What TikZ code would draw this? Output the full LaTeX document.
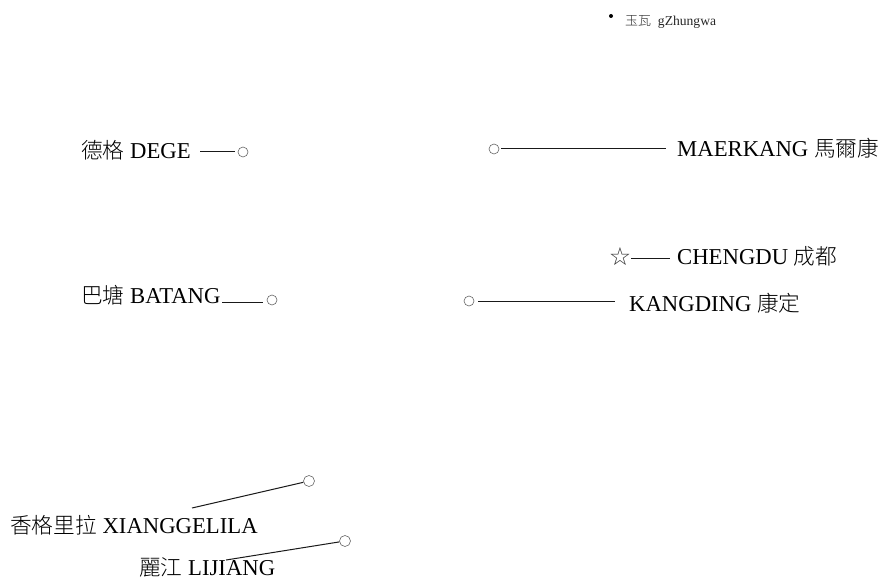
\documentclass[tikz,border=0pt]{standalone}
\usepackage{fontspec}
\setmainfont{Liberation Serif}
\newfontfamily\cjk[Scale=0.955]{Noto Sans CJK TC Light}
\newfontfamily\sym{DejaVu Sans}
\tikzset{
  x=1pt,y=-1pt,
  lab/.style={anchor=base west,inner sep=0pt,font=\fontsize{22.7}{25}\selectfont,text=black},
  small/.style={anchor=base west,inner sep=0pt,font=\fontsize{13.6}{15}\selectfont,text=black!85},
  town/.style={circle,draw=black!60,line width=0.6pt,minimum size=10pt,inner sep=0pt},
  lead/.style={line width=1pt,black!90}
}
\begin{document}
\begin{tikzpicture}
\useasboundingbox (0,0) rectangle (882,580);
\node[circle,fill=black,minimum size=4pt,inner sep=0pt] (zbul) at (611,16) {};
\node[small] (zh) at (625,26) {{\cjk 玉瓦}\ \ gZhungwa};

\node[lab] (dege) at (81,159) {{\cjk 德格} DEGE};
\node[town] (degeC) at (243,152) {};
\coordinate (degeE) at (200,152);
\draw[lead,shorten >=3pt] (degeE) -- (degeC);

\node[lab] (mk) at (677,157) {MAERKANG {\cjk 馬爾康}};
\node[town] (mkC) at (494,149) {};
\coordinate (mkE) at (666,149);
\draw[lead,shorten <=2pt] (mkC) -- (mkE);

\node[lab] (cd) at (677,264) {CHENGDU {\cjk 成都}};
\node[inner sep=0pt,font=\sym\fontsize{25}{27}\selectfont,text=black!80] (cdS) at (620,257) {☆};
\coordinate (cdE) at (670,258.5);
\draw[lead] (cdE -| cdS.east) -- (cdE);

\node[lab] (kd) at (629,311) {KANGDING {\cjk 康定}};
\node[town] (kdC) at (469,301) {};
\coordinate (kdE) at (615,301);
\draw[lead,shorten <=4pt] (kdC) -- (kdE);

\node[lab] (bt) at (81,303) {{\cjk 巴塘} BATANG};
\node[town] (btC) at (272,300) {};
\coordinate (btE) at (222,302);
\draw[lead,shorten >=4pt] (btE) -- (btE -| btC.west);

\node[lab] (xg) at (10,533) {{\cjk 香格里拉} XIANGGELILA};
\node[town,minimum size=11pt] (xgC) at (309,481) {};
\coordinate (xgE) at (192,508);
\draw[lead] (xgE) -- (xgC);

\node[lab] (lj) at (139,575.5) {{\cjk 麗江} LIJIANG};
\node[town,minimum size=11pt] (ljC) at (345,541) {};
\coordinate (ljE) at (226,560);
\draw[lead] (ljE) -- (ljC);
\end{tikzpicture}
\end{document}
